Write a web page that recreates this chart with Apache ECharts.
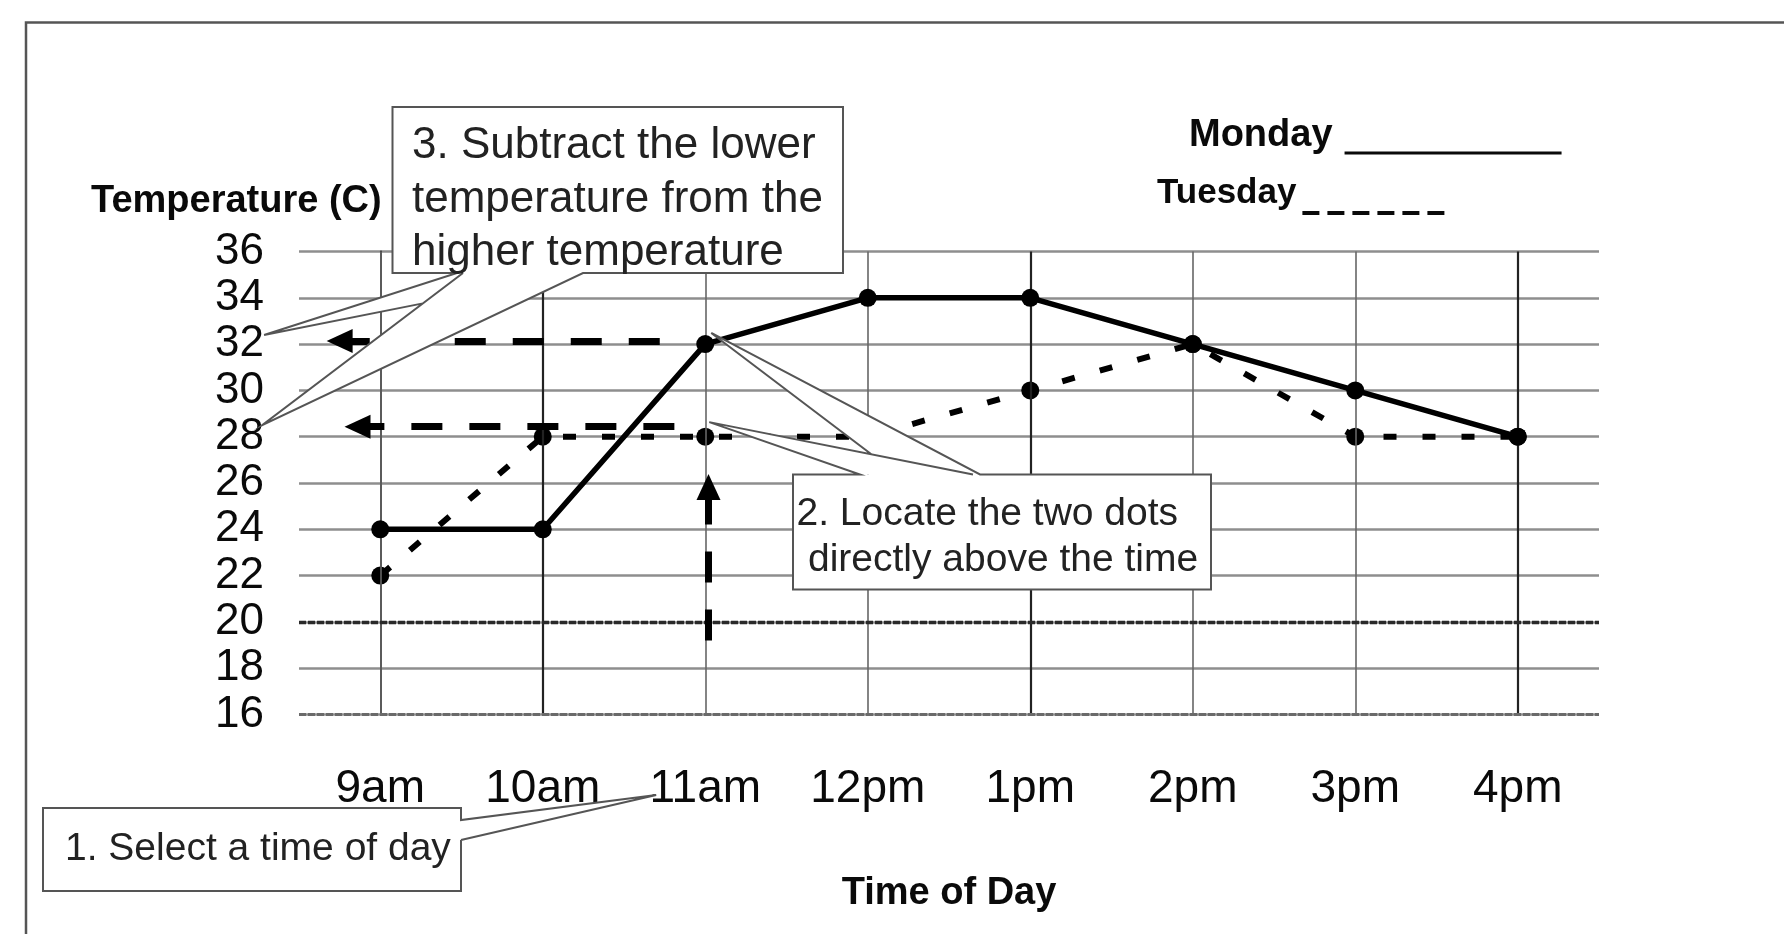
<!DOCTYPE html>
<html>
<head>
<meta charset="utf-8">
<title>Temperature by Time of Day</title>
<script src="https://cdn.jsdelivr.net/npm/echarts@6/dist/echarts.min.js"></script>
<style>
  html, body { margin: 0; padding: 0; background: #ffffff; }
  #chart { width: 1784px; height: 934px; }
</style>
</head>
<body>
<div id="chart"></div>
<script>
// Hourly readings for the two days
const timesOfDay = ['9am', '10am', '11am', '12pm', '1pm', '2pm', '3pm', '4pm'];
const mondayTemps = [24, 24, 32, 34, 34, 32, 30, 28];
const tuesdayTemps = [22, 28, 28, 28, 30, 32, 28, 28];
const tempMin = 16;
const tempMax = 36;
const tempStep = 2;

const FONT = "'Liberation Sans', Arial, Helvetica, sans-serif";
const INK = '#0a0a0a';

// Tuesday readings drawn without a dot
const tuesdayPlain = ['12pm'];

// Dashed read-off arrows, in (hour index, temperature) units
const readOffArrows = [
  { from: [1.72, 32.13], to: [-0.25, 32.13] },
  { from: [1.81, 28.43], to: [-0.14, 28.43] },
  { from: [2.02, 19.2], to: [2.02, 25.83] }
];

// Darker vertical rules
const strongRules = ['10am', '1pm', '4pm'];

const chart = echarts.init(document.getElementById('chart'), null, { renderer: 'canvas' });

// Key icons: the stroke sits at the text baseline, the leading/trailing
// moveTo points fix the icon box so the stroke keeps that offset.
const mondayIcon = 'path://M0,0M0,35.5h217v3H0zM217,40';
let tuesdayIcon = 'path://M0,0';
for (let k = 0; k < 6; k++) tuesdayIcon += 'M' + (k * 25) + ',40h17v4h-17z';
tuesdayIcon += 'M142,44';

const verticalRules = timesOfDay.map((t, i) => ({
  xAxis: i,
  lineStyle: strongRules.includes(t)
    ? { color: '#222', width: 2.2, type: 'solid' }
    : { color: '#666', width: 1.6, type: 'solid' }
}));

const option = {
  backgroundColor: '#ffffff',
  animation: false,
  textStyle: { fontFamily: FONT },
  title: {
    text: 'Temperature (C)',
    left: 91, top: 183, padding: 0,
    textStyle: { fontFamily: FONT, fontSize: 38, fontWeight: 'bold', color: INK }
  },
  grid: { left: 299, top: 251.5, width: 1300, height: 463, containLabel: false, outerBoundsMode: 'none' },
  legend: [
    {
      data: ['Monday'],
      left: 1189, top: 116, padding: 0,
      align: 'right', selectedMode: false,
      icon: mondayIcon, itemWidth: 217, itemHeight: 40,
      itemStyle: { color: INK, borderWidth: 0 },
      textStyle: { fontFamily: FONT, fontSize: 38, fontWeight: 'bold', color: INK, padding: [0, 7, 0, 0] }
    },
    {
      data: ['Tuesday'],
      left: 1157, top: 171, padding: 0,
      align: 'right', selectedMode: false,
      icon: tuesdayIcon, itemWidth: 142, itemHeight: 44,
      itemStyle: { color: INK, borderWidth: 0 },
      textStyle: { fontFamily: FONT, fontSize: 35, fontWeight: 'bold', color: INK, padding: [0, 1, 0, 0] }
    }
  ],
  xAxis: [
    {
      type: 'category',
      data: timesOfDay,
      boundaryGap: true,
      name: 'Time of Day',
      nameLocation: 'middle',
      nameGap: 160,
      nameTextStyle: { fontFamily: FONT, fontSize: 38, fontWeight: 'bold', color: INK },
      axisLine: { show: false },
      axisTick: { show: false },
      splitLine: { show: false },
      axisLabel: { interval: 0, margin: 52, fontFamily: FONT, fontSize: 46, color: INK }
    },
    {
      type: 'value',
      min: -0.5, max: 7.5,
      show: false,
      splitLine: { show: false }
    }
  ],
  yAxis: {
    type: 'value',
    min: tempMin, max: tempMax, interval: tempStep,
    axisLine: { show: true, lineStyle: { color: '#333', width: 2 } },
    axisTick: { show: false },
    axisLabel: { margin: 35, fontFamily: FONT, fontSize: 44, color: INK },
    splitLine: { show: true, lineStyle: { color: '#8e8e8e', width: 2.6 } }
  },
  series: [
    {
      name: 'Monday',
      type: 'line',
      data: mondayTemps,
      z: 5,
      symbol: 'circle',
      symbolSize: 18,
      showAllSymbol: true,
      lineStyle: { color: '#000', width: 5.5 },
      itemStyle: { color: '#000' }
    },
    {
      name: 'Tuesday',
      type: 'line',
      data: tuesdayTemps,
      z: 4,
      symbol: (value, params) => tuesdayPlain.includes(timesOfDay[params.dataIndex]) ? 'none' : 'circle',
      symbolSize: 18,
      showAllSymbol: true,
      lineStyle: { color: '#000', width: 6, type: [13, 26] },
      itemStyle: { color: '#000' }
    },
    {
      name: 'rules',
      type: 'line',
      xAxisIndex: 1,
      data: [],
      z: 1,
      markLine: {
        silent: true,
        animation: false,
        symbol: ['none', 'none'],
        label: { show: false },
        emphasis: { disabled: true },
        data: verticalRules.concat([
          { yAxis: 20, lineStyle: { color: '#2a2a2a', width: 3.4, type: [7, 2] } },
          { yAxis: 16, lineStyle: { color: '#6a6a6a', width: 3, type: [7, 2] } }
        ])
      }
    },
    {
      name: 'arrows',
      type: 'line',
      xAxisIndex: 1,
      data: [],
      z: 100,
      markLine: {
        silent: true,
        animation: false,
        symbol: ['none', 'none'],
        label: { show: false },
        emphasis: { disabled: true },
        lineStyle: { color: '#000', width: 7, type: [31, 27], cap: 'butt' },
        data: readOffArrows.map(a => [
          { coord: a.from, symbol: 'none' },
          { coord: a.to, symbol: 'triangle', symbolSize: [24, 26] }
        ])
      }
    }
  ]
};

chart.setOption(option);

// Callout boxes with pointers
function toPx(pt) {
  return chart.convertToPixel({ seriesIndex: 3 }, pt);
}
function intersect(p1, p2, p3, p4) {
  const d = (p1[0] - p2[0]) * (p3[1] - p4[1]) - (p1[1] - p2[1]) * (p3[0] - p4[0]);
  const a = p1[0] * p2[1] - p1[1] * p2[0];
  const b = p3[0] * p4[1] - p3[1] * p4[0];
  return [
    (a * (p3[0] - p4[0]) - (p1[0] - p2[0]) * b) / d,
    (a * (p3[1] - p4[1]) - (p1[1] - p2[1]) * b) / d
  ];
}

const EDGE = { stroke: '#555', lineWidth: 2, fill: null };
const WHITE = { fill: '#ffffff', stroke: null };
const Z = 50;

function boxRect(b) {
  return { type: 'rect', z: Z, shape: { x: b.x, y: b.y, width: b.w, height: b.h }, style: WHITE, silent: true };
}
function wedge(points) {
  return { type: 'polygon', z: Z, shape: { points }, style: WHITE, silent: true };
}
function outline(points) {
  return { type: 'polyline', z: Z + 1, shape: { points }, style: EDGE, silent: true };
}
function label(text, x, y, size) {
  return {
    type: 'text', z: Z + 2, x, y, silent: true,
    style: { text, fontFamily: FONT, fontSize: size, fill: '#222', verticalAlign: 'middle', align: 'left' }
  };
}

function buildCallouts() {
  const els = [];

  // outer page frame
  els.push({ type: 'polyline', z: 0, silent: true,
    shape: { points: [[26, 934], [26, 22.5], [1784, 22.5]] },
    style: { stroke: '#555', lineWidth: 2.5, fill: null } });

  // 1. Select a time of day
  const b1 = { x: 43, y: 808, w: 418, h: 83 };
  const tip1 = toPx([1.698, 12.52]);
  const r1 = b1.x + b1.w;
  els.push(boxRect(b1));
  els.push(wedge([[r1, 820], tip1, [r1, 840]]));
  els.push(outline([[r1, 840], tip1, [r1, 820], [r1, b1.y], [b1.x, b1.y], [b1.x, b1.y + b1.h], [r1, b1.y + b1.h], [r1, 840]]));
  els.push(label('1. Select a time of day', 65, 849, 39));

  // 2. Locate the two dots directly above the time
  const b2 = { x: 793, y: 474.5, w: 418, h: 115 };
  const tipA = toPx([2.037, 32.48]);
  const tipB = toPx([2.025, 28.63]);
  const aL = [898, b2.y], aR = [980, b2.y], bL = [860, b2.y], bR = [973, b2.y];
  const cutA = intersect(tipA, aL, tipB, bR);
  els.push(wedge([tipA, aL, aR]));
  els.push(wedge([tipB, bL, bR]));
  els.push(boxRect(b2));
  els.push(outline([cutA, tipA, aR, [b2.x + b2.w, b2.y], [b2.x + b2.w, b2.y + b2.h], [b2.x, b2.y + b2.h], [b2.x, b2.y], bL, tipB, bR]));
  els.push(label('2. Locate the two dots', 796.5, 514, 39));
  els.push(label('directly above the time', 808, 560, 39));

  // 3. Subtract the lower temperature from the higher temperature
  const b3 = { x: 392.5, y: 107, w: 450.5, h: 166 };
  const bot = b3.y + b3.h;
  const tipHi = toPx([-0.715, 32.39]);
  const tipLo = toPx([-0.727, 28.5]);
  const hL = [457, bot], hR = [575, bot], lL = [463, bot], lR = [583, bot];
  const cutH = intersect(tipHi, hR, tipLo, lL);
  els.push(wedge([tipHi, hL, hR]));
  els.push(wedge([tipLo, lL, lR]));
  els.push(boxRect(b3));
  els.push(outline([cutH, tipHi, hL, [b3.x, bot], [b3.x, b3.y], [b3.x + b3.w, b3.y], [b3.x + b3.w, bot], lR, tipLo, lL]));
  els.push(label('3. Subtract the lower', 412, 146, 44));
  els.push(label('temperature from the', 412, 200, 44));
  els.push(label('higher temperature', 412, 253, 44));

  return els;
}

chart.setOption({ graphic: { elements: buildCallouts() } });
</script>
</body>
</html>
